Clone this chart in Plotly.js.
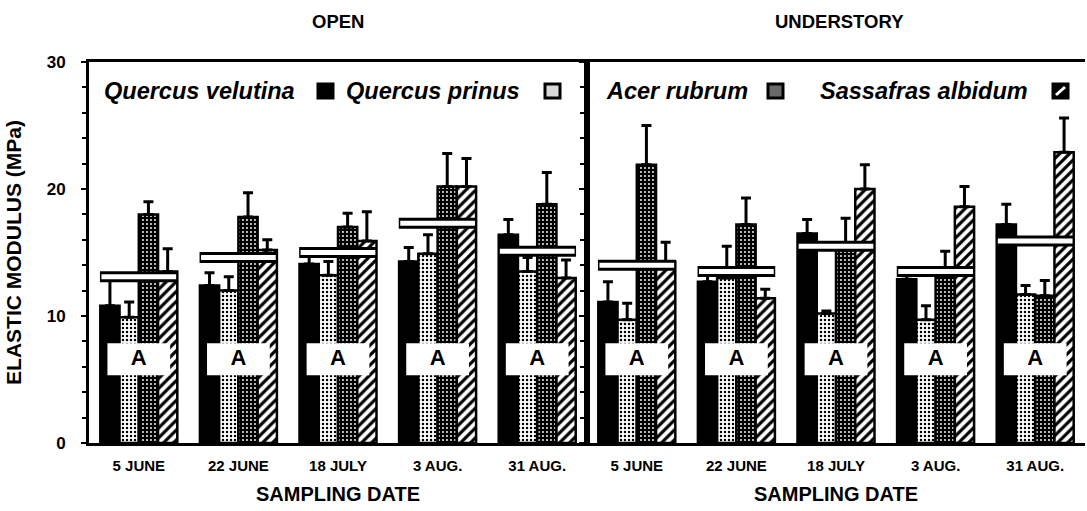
<!DOCTYPE html>
<html>
<head>
<meta charset="utf-8">
<script src="https://cdn.plot.ly/plotly-3.0.1.min.js"></script>
<style>html,body{margin:0;padding:0;background:#fff;}#chart{width:1087px;height:511px;}</style>
</head>
<body>
<div id="chart"></div>
<script>
// ---------------- data ----------------
const dates = ['5 JUNE', '22 JUNE', '18 JULY', '3 AUG.', '31 AUG.'];
const speciesNames = ['Quercus velutina', 'Quercus prinus', 'Acer rubrum', 'Sassafras albidum'];
const panelTitles = ['OPEN', 'UNDERSTORY'];

// OPEN site: mean elastic modulus (MPa) and upper error
const openVelutina = [10.8, 12.4, 14.1, 14.3, 16.4];
const openVelutinaErr = [2.5, 1.0, 0.8, 1.1, 1.2];
const openPrinus = [9.9, 12.0, 13.2, 14.9, 13.5];
const openPrinusErr = [1.2, 1.1, 1.1, 1.5, 1.1];
const openRubrum = [18.0, 17.8, 17.0, 20.2, 18.8];
const openRubrumErr = [1.0, 1.9, 1.1, 2.6, 2.5];
const openSassafras = [13.5, 15.2, 15.9, 20.2, 13.0];
const openSassafrasErr = [1.8, 0.8, 2.3, 2.2, 1.4];
const openMeans = [13.1, 14.6, 15.0, 17.3, 15.1];
const openLetters = ['A', 'A', 'A', 'A', 'A'];

// UNDERSTORY site
const underVelutina = [11.1, 12.7, 16.5, 12.9, 17.2];
const underVelutinaErr = [1.6, 0.5, 1.1, 0.4, 1.6];
const underPrinus = [9.7, 13.0, 10.2, 9.7, 11.7];
const underPrinusErr = [1.3, 2.5, 0.2, 1.1, 0.7];
const underRubrum = [21.9, 17.2, 15.2, 13.2, 11.6];
const underRubrumErr = [3.1, 2.1, 2.5, 1.9, 1.2];
const underSassafras = [14.3, 11.4, 20.0, 18.6, 22.9];
const underSassafrasErr = [1.5, 0.7, 1.9, 1.6, 2.7];
const underMeans = [14.0, 13.5, 15.5, 13.5, 15.9];
const underLetters = ['A', 'A', 'A', 'A', 'A'];

// ---------------- styling ----------------
const FONT = 'Liberation Sans, Arial, Helvetica, sans-serif';
const LETTER_Y = 6.6;
const idx = dates.map((d, i) => i);

const speciesStyles = [
  {color: '#000000', pattern: {shape: ''}},
  {color: '#ffffff', pattern: {shape: '.', fgcolor: '#000000', bgcolor: '#ffffff', size: 4, solidity: 0.3}},
  {color: '#000000', pattern: {shape: '.', fgcolor: '#ffffff', bgcolor: '#000000', size: 4, solidity: 0.18}},
  {color: '#ffffff', pattern: {shape: '/', fgcolor: '#000000', bgcolor: '#ffffff', size: 7, solidity: 0.45}}
];

function barTrace(vals, errs, sp, xa, ya) {
  const st = speciesStyles[sp];
  return {
    type: 'bar', x: idx, y: vals, name: speciesNames[sp], xaxis: xa, yaxis: ya,
    showlegend: false, hoverinfo: 'y+name',
    marker: {color: st.color, pattern: st.pattern, line: {color: '#000', width: 2.5}},
    error_y: {type: 'data', symmetric: false, array: errs, arrayminus: errs.map(() => 0),
              color: '#000', thickness: 3, width: 5}
  };
}

function segs(vals, half) {
  const x = [], y = [];
  vals.forEach((v, i) => { x.push(i - half, i + half, null); y.push(v, v, null); });
  return {x, y};
}

function overlayTraces(means, letters, xa, ya) {
  const mOuter = segs(means, 0.39), mInner = segs(means, 0.375);
  const box = segs(letters.map(() => LETTER_Y), 0.315);
  return [
    {type: 'scatter', mode: 'lines', x: mOuter.x, y: mOuter.y, xaxis: xa, yaxis: ya,
     line: {color: '#000', width: 11}, showlegend: false, hoverinfo: 'skip'},
    {type: 'scatter', mode: 'lines', x: mInner.x, y: mInner.y, xaxis: xa, yaxis: ya,
     line: {color: '#fff', width: 5}, showlegend: false, hoverinfo: 'skip'},
    {type: 'scatter', mode: 'lines', x: box.x, y: box.y, xaxis: xa, yaxis: ya,
     line: {color: '#fff', width: 32}, showlegend: false, hoverinfo: 'skip'},
    {type: 'scatter', mode: 'text', x: idx, y: letters.map(() => LETTER_Y), text: letters,
     xaxis: xa, yaxis: ya, textposition: 'middle center',
     textfont: {family: FONT, size: 22, color: '#000', weight: 700},
     showlegend: false, hoverinfo: 'skip'}
  ];
}

const traces = [
  barTrace(openVelutina, openVelutinaErr, 0, 'x', 'y'),
  barTrace(openPrinus, openPrinusErr, 1, 'x', 'y'),
  barTrace(openRubrum, openRubrumErr, 2, 'x', 'y'),
  barTrace(openSassafras, openSassafrasErr, 3, 'x', 'y'),
  barTrace(underVelutina, underVelutinaErr, 0, 'x2', 'y2'),
  barTrace(underPrinus, underPrinusErr, 1, 'x2', 'y2'),
  barTrace(underRubrum, underRubrumErr, 2, 'x2', 'y2'),
  barTrace(underSassafras, underSassafrasErr, 3, 'x2', 'y2')
].concat(overlayTraces(openMeans, openLetters, 'x', 'y'))
 .concat(overlayTraces(underMeans, underLetters, 'x2', 'y2'));

const xBase = {
  range: [-0.5, 4.5], tickmode: 'array', tickvals: idx, ticktext: dates, ticks: '',
  showline: true, linecolor: '#000', linewidth: 3, mirror: true, showgrid: false, zeroline: false,
  tickfont: {family: FONT, size: 15, color: '#000', weight: 700}, ticklabelstandoff: 7,
  title: {text: 'SAMPLING DATE', font: {family: FONT, size: 20, color: '#000', weight: 700}, standoff: 14},
  fixedrange: true
};

const yBase = {
  range: [0, 30], tickmode: 'array', tickvals: [0, 10, 20, 30], ticks: 'outside', ticklen: 5,
  tickwidth: 2, tickcolor: '#000', showline: true, linecolor: '#000', linewidth: 3,
  showgrid: false, zeroline: false, fixedrange: true,
  minor: {dtick: 2, ticks: 'outside', ticklen: 4, tickwidth: 2, tickcolor: '#000', showgrid: false}
};

// legend (text then swatch) placed in paper coordinates
function px2x(p) { return (p - 89) / 996; }
function px2y(p) { return (443 - p) / 381; }

const legendAnn = [
  {name: speciesNames[0], x: 102},
  {name: speciesNames[1], x: 344},
  {name: speciesNames[2], x: 604},
  {name: speciesNames[3], x: 818}
].map(o => ({
  text: o.name, x: px2x(o.x), y: px2y(91), xref: 'paper', yref: 'paper',
  xanchor: 'left', yanchor: 'middle', showarrow: false,
  font: {family: FONT, size: 23.5, color: '#000', weight: 700, style: 'italic'}
}));

const swatchX = [318, 545, 768, 1053];
const swatchFill = ['#000', '#d8d8d8', '#6a6a6a', '#000'];
const shapes = [];
swatchX.forEach((sx, i) => {
  shapes.push({type: 'rect', xref: 'paper', yref: 'paper', x0: px2x(sx), x1: px2x(sx + 15),
    y0: px2y(98), y1: px2y(84), fillcolor: swatchFill[i], line: {color: '#000', width: 3}});
});
shapes.push({type: 'line', xref: 'paper', yref: 'paper', x0: px2x(1056), x1: px2x(1065),
  y0: px2y(95), y1: px2y(87), line: {color: '#fff', width: 3}});

const titleAnn = panelTitles.map((t, i) => ({
  text: t, x: i === 0 ? 0.25 : 0.754, y: px2y(22), xref: 'paper', yref: 'paper',
  xanchor: 'center', yanchor: 'middle', showarrow: false,
  font: {family: FONT, size: 18.5, color: '#000', weight: 700}
}));

const layout = {
  width: 1087, height: 511,
  margin: {l: 89, r: 2, t: 62, b: 68, pad: 0},
  paper_bgcolor: '#fff', plot_bgcolor: '#fff',
  barmode: 'group', bargap: 0.227, bargroupgap: 0,
  showlegend: false,
  xaxis: Object.assign({}, xBase, {domain: [0, 0.5], anchor: 'y'}),
  xaxis2: Object.assign({}, xBase, {domain: [0.5, 1], anchor: 'y2'}),
  yaxis: Object.assign({}, yBase, {
    anchor: 'x', mirror: true,
    tickfont: {family: FONT, size: 17, color: '#000', weight: 700}, ticklabelstandoff: 12,
    title: {text: 'ELASTIC MODULUS (MPa)', font: {family: FONT, size: 21, color: '#000', weight: 700}, standoff: 20}
  }),
  yaxis2: Object.assign({}, yBase, {anchor: 'x2', matches: 'y', showticklabels: false}),
  annotations: legendAnn.concat(titleAnn),
  shapes: shapes
};

Plotly.newPlot('chart', traces, layout, {displayModeBar: false, staticPlot: true});
</script>
</body>
</html>
